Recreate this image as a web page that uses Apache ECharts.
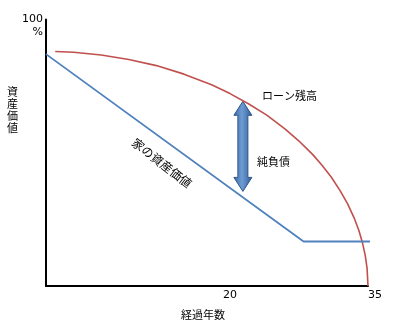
<!DOCTYPE html>
<html><head><meta charset="utf-8">
<script src="https://cdn.jsdelivr.net/npm/echarts@6/dist/echarts.min.js"></script>
<style>html,body{margin:0;padding:0;background:#fff}#c{width:400px;height:325px}</style>
</head><body><div id="c"></div>
<script>
// data (years, % of value)
var assetValue = [[0, 87], [28, 16.7], [36, 16.7]];
var loanBalance = [[1, 88], [3, 87.7], [6, 86.7], [9, 85.0], [12, 82.7], [15, 79.5], [18, 75.5], [20, 72.2], [22, 68.4], [24, 64.1], [26, 58.9], [27.5, 54.4], [29, 49.3], [30, 45.3], [31, 40.9], [32, 35.6], [32.8, 30.7], [33.5, 25.5], [34, 20.9], [34.4, 16.2], [34.7, 11.5], [34.9, 6.6], [35, 0]];
var netDebtArrow = [[21.4, 69.3, 35.5]]; // [year, top, bottom]
var xTickLabels = [20, 35];
var yTickLabels = [100];

var CJK = '"Noto Sans CJK JP", sans-serif';
var NUM = '"DejaVu Sans", sans-serif';
var chart = echarts.init(document.getElementById('c'), null, {renderer: 'canvas'});
chart.setOption({
  animation: false,
  backgroundColor: '#fff',
  grid: {left: 46, right: 32, top: 18, bottom: 38},
  xAxis: {
    type: 'value', min: 0, max: 35,
    axisLine: {lineStyle: {color: '#000', width: 2}},
    axisTick: {show: false},
    splitLine: {show: false},
    axisLabel: {customValues: xTickLabels, color: '#000', fontFamily: NUM, fontSize: 11, margin: 4, alignMaxLabel: 'left'},
    name: '経過年数', nameLocation: 'middle', nameGap: 23,
    nameTextStyle: {color: '#000', fontFamily: CJK, fontSize: 11, padding: [0, 8, 0, 0]}
  },
  yAxis: {
    type: 'value', min: 0, max: 100,
    axisLine: {show: true, lineStyle: {color: '#000', width: 2}},
    axisTick: {show: false},
    splitLine: {show: false},
    axisLabel: {customValues: yTickLabels, formatter: function (v) { return '\n' + v + '\n%'; },
      color: '#000', fontFamily: NUM, fontSize: 11, lineHeight: 13, margin: 3,
      verticalAlign: 'middle', showMaxLabel: true}
  },
  graphic: [
    {type: 'text', left: 7, top: 86, style: {text: '資\n産\n価\n値', font: '11px ' + CJK, lineHeight: 12, fill: '#000', align: 'left'}},
    {type: 'text', left: 262, top: 90, style: {text: 'ローン残高', font: '11px ' + CJK, fill: '#000'}},
    {type: 'text', left: 257, top: 156, style: {text: '純負債', font: '11px ' + CJK, fill: '#000'}},
    {type: 'text', x: 162, y: 163, rotation: -38 * Math.PI / 180,
      style: {text: '家の資産価値', font: '12px ' + CJK, fill: '#000', align: 'center', verticalAlign: 'middle'}}
  ],
  series: [
    {type: 'line', data: loanBalance, smooth: false, showSymbol: false, clip: false,
      lineStyle: {color: '#C0504D', width: 1.6}},
    {type: 'line', data: assetValue, showSymbol: false, clip: false,
      lineStyle: {color: '#4F81BD', width: 1.8}},
    {type: 'custom', data: netDebtArrow, clip: false,
      renderItem: function (params, api) {
        var t = api.coord([api.value(0), api.value(1)]);
        var b = api.coord([api.value(0), api.value(2)]);
        var cx = t[0], hw = 9, sw = 5, hl = 14;
        var pts = [[cx, t[1]], [cx + hw, t[1] + hl], [cx + sw, t[1] + hl], [cx + sw, b[1] - hl], [cx + hw, b[1] - hl],
          [cx, b[1]], [cx - hw, b[1] - hl], [cx - sw, b[1] - hl], [cx - sw, t[1] + hl], [cx - hw, t[1] + hl]];
        return {type: 'polygon', shape: {points: pts},
          style: {fill: new echarts.graphic.LinearGradient(0, 0, 1, 0, [
            {offset: 0, color: '#3A6AA6'}, {offset: 0.45, color: '#6E9BD2'}, {offset: 1, color: '#2F5C95'}]),
            stroke: '#2E5689', lineWidth: 1}};
      }}
  ]
});
</script></body></html>
